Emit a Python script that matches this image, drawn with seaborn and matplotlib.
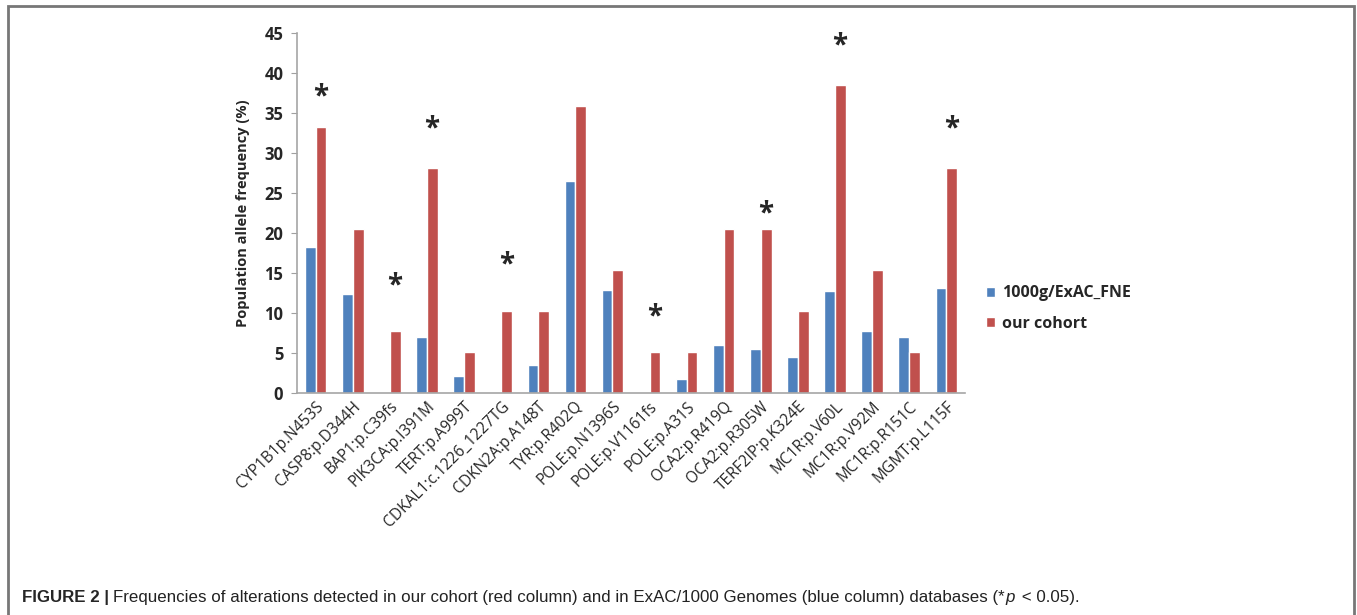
import numpy as np
import pandas as pd
import seaborn as sns
import matplotlib.pyplot as plt
from matplotlib.patches import Rectangle

variants = [
    "CYP1B1p.N453S", "CASP8:p.D344H", "BAP1:p.C39fs", "PIK3CA:p.I391M",
    "TERT:p.A999T", "CDKAL1:c.1226_1227TG", "CDKN2A:p.A148T", "TYR:p.R402Q",
    "POLE:p.N1396S", "POLE:p.V1161fs", "POLE:p.A31S", "OCA2:p.R419Q",
    "OCA2:p.R305W", "TERF2IP:p.K324E", "MC1R:p.V60L", "MC1R:p.V92M",
    "MC1R:p.R151C", "MGMT:p.L115F",
]
exac_fne = [18.2, 12.4, 0, 7.0, 2.1, 0, 3.5, 26.5, 12.9, 0, 1.7, 6.0,
            5.5, 4.5, 12.8, 7.8, 7.0, 13.1]
our_cohort = [33.3, 20.5, 7.7, 28.2, 5.1, 10.3, 10.3, 35.9, 15.4, 5.1, 5.1, 20.5,
              20.5, 10.3, 38.5, 15.4, 5.1, 28.2]
# height of the significance asterisks (p < 0.05), None = not significant
star_y = [37.0, None, 13.4, 33.0, None, 16.0, None, None, None, 9.5, None, None,
          22.4, None, 43.4, None, None, 33.0]
series = ["1000g/ExAC_FNE", "our cohort"]

df = pd.DataFrame({
    "variant": variants * 2,
    "freq": exac_fne + our_cohort,
    "source": [series[0]] * len(variants) + [series[1]] * len(variants),
})

sns.set_style("white")
plt.rcParams["font.family"] = ["Open Sans", "DejaVu Sans"]

fig = plt.figure(figsize=(13.57, 6.15), dpi=100)
ax = fig.add_axes([0.219, 0.361, 0.492, 0.585])

sns.barplot(data=df, x="variant", y="freq", hue="source",
            palette=["#4F81BD", "#C0504D"], width=0.58, saturation=1,
            ax=ax, legend=True)

for i, y in enumerate(star_y):
    if y is not None:
        ax.text(i + 0.14, y, "*", ha="center", va="center",
                fontsize=20, fontweight="bold")

ax.set_ylim(0, 45)
ax.set_yticks(np.arange(0, 46, 5))
ax.set_xlim(-0.5, len(variants) - 0.5)
ax.set_xlabel("")
ax.set_ylabel("Population allele frequency (%)", fontsize=10.5,
              fontweight="bold", labelpad=10)
for lbl in ax.get_yticklabels():
    lbl.set_fontweight("bold")
ax.tick_params(axis="y", labelsize=12, length=4, color="#A0A0A0",
               direction="out", left=True, pad=6)
ax.tick_params(axis="x", length=0, labelsize=11.2, pad=4)
plt.setp(ax.get_xticklabels(), rotation=45, ha="right",
         rotation_mode="anchor")
sns.despine(ax=ax)
for s in ["left", "bottom"]:
    ax.spines[s].set_color("#A6A6A6")
    ax.spines[s].set_linewidth(1.2)

leg = ax.legend(loc="center left", bbox_to_anchor=(1.01, 0.235), frameon=False,
                handlelength=0.6, handleheight=0.6, handletextpad=0.4,
                labelspacing=0.9, prop={"weight": "bold", "size": 11.5})

# outer frame of the figure panel
fig.patches.append(Rectangle((0.006, -0.02), 0.992, 1.01, transform=fig.transFigure,
                             fill=False, edgecolor="#777777", linewidth=2))

cap_font = ["Liberation Sans", "DejaVu Sans"]
cap_y = 0.021
t1 = fig.text(0.016, cap_y, "FIGURE 2 | ", fontsize=12.2, fontweight="bold",
              family=cap_font, va="baseline")
t2 = fig.text(0, 0, "Frequencies of alterations detected in our cohort (red column) "
              "and in ExAC/1000 Genomes (blue column) databases (*",
              fontsize=12.2, family=cap_font, va="baseline", color="#222222")
fig.canvas.draw()
r = fig.canvas.get_renderer()
bb = t1.get_window_extent(r)
t2.set_position(((bb.x1) / fig.bbox.width, cap_y))
bb = t2.get_window_extent(r)
t3 = fig.text(bb.x1 / fig.bbox.width, cap_y, "p", fontsize=12.2, style="italic",
              family=cap_font, va="baseline", color="#222222")
bb = t3.get_window_extent(r)
fig.text(bb.x1 / fig.bbox.width + 0.002, cap_y, " < 0.05).", fontsize=12.2,
         family=cap_font, va="baseline", color="#222222")

fig.savefig("out.png", dpi=100)
